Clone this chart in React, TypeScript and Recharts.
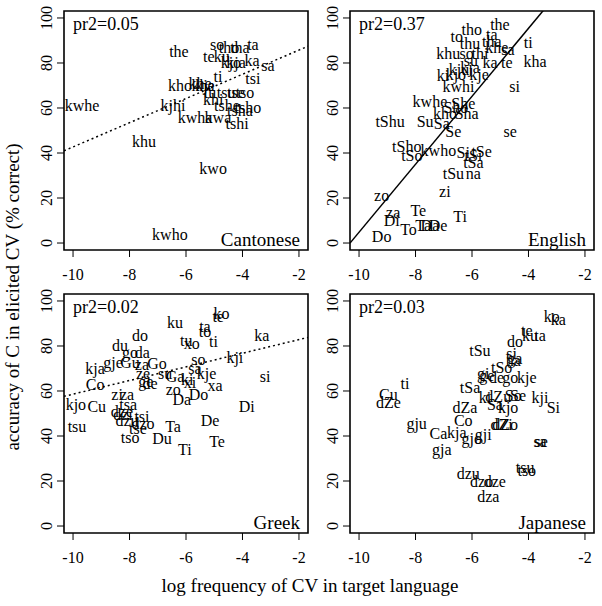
import React from 'react';
import { ScatterChart, Scatter, XAxis, YAxis, ReferenceArea, ReferenceLine } from 'recharts';

// tick values shared by all four panels
const xTicks = [-10, -8, -6, -4, -2];
const yTicks = [0, 20, 40, 60, 80, 100];
const xDomain = [-10.32, -1.68];
const yDomain = [-3.1, 103.1];

// Cantonese
const cantoneseLabels = ['the', 'so', 'tho', 'tha', 'ta', 'te', 'ku', 'kjo', 'kja', 'ka', 'sa', 'ti', 'tsi', 'kho', 'khe', 'kje', 'kha', 'tu', 'tsu', 'tse', 'tso', 'khi', 'kjhi', 'kwhe', 'tshe', 'tsho', 'tsha', 'kwha', 'kwa', 'tshi', 'khu', 'kwo', 'kwho'];
const cantoneseX = [-6.25, -4.9, -4.48, -4.09, -3.63, -5.19, -4.73, -4.41, -4.23, -3.66, -3.1, -4.87, -3.63, -6.21, -5.5, -5.33, -5.4, -5.15, -4.58, -4.23, -3.91, -5.04, -6.46, -9.68, -4.55, -3.81, -4.09, -5.68, -4.87, -4.19, -7.49, -5.04, -6.57];
const cantoneseY = [85.3, 88.0, 87.1, 87.1, 88.0, 82.7, 82.7, 80.0, 80.4, 81.3, 78.7, 73.8, 73.3, 70.2, 70.7, 70.2, 69.8, 67.1, 67.1, 67.1, 67.1, 63.6, 61.3, 61.3, 61.3, 60.4, 59.1, 55.6, 55.6, 52.9, 45.3, 33.3, 3.6];

// English
const englishLabels = ['the', 'tho', 'ta', 'to', 'thu', 'tha', 'khu', 'so', 'thi', 'khe', 'sa', 'ti', 'kha', 'te', 'ka', 'su', 'ki', 'kjo', 'kje', 'kja', 'kju', 'si', 'kwhi', 'kwhe', 'She', 'Sho', 'kho', 'Sha', 'tShu', 'Su', 'Sa', 'Se', 'se', 'tSho', 'tSo', 'kwho', 'Si', 'tSe', 'tSi', 'tSa', 'tSu', 'na', 'zi', 'zo', 'za', 'Te', 'Di', 'Ti', 'To', 'Ta', 'Da', 'De', 'Do'];
const englishX = [-5.01, -6.01, -5.3, -6.54, -6.07, -5.3, -6.84, -6.19, -5.72, -5.12, -4.73, -4.01, -3.77, -4.77, -5.36, -6.04, -7.03, -6.57, -5.75, -6.07, -6.46, -4.49, -6.48, -7.49, -6.31, -6.57, -6.96, -6.19, -8.9, -7.66, -7.07, -6.66, -4.65, -8.31, -8.13, -7.19, -6.31, -5.66, -5.95, -5.95, -6.66, -5.95, -6.96, -9.2, -8.79, -7.9, -8.84, -6.42, -8.25, -7.73, -7.49, -7.2, -9.2];
const englishY = [97.2, 95.1, 92.7, 91.7, 88.8, 89.5, 84.3, 84.3, 84.3, 87.1, 85.8, 89.2, 80.6, 80.3, 80.3, 81.3, 74.4, 75.1, 75.1, 77.8, 76.9, 69.5, 69.5, 62.8, 62.1, 60.0, 57.6, 57.6, 53.9, 53.9, 53.2, 49.5, 49.5, 42.8, 39.1, 41.3, 40.1, 40.6, 39.1, 35.7, 30.7, 30.7, 23.1, 20.9, 13.5, 14.4, 10.2, 11.7, 5.8, 7.6, 7.6, 7.6, 2.8];

// Greek
const greekLabels = ['ko', 'te', 'ku', 'ta', 'to', 'do', 'ka', 'tu', 'xo', 'ti', 'du', 'go', 'da', 'kji', 'so', 'gje', 'Gu', 'za', 'Go', 'kja', 'Co', 'sa', 'kje', 'Ga', 'ze', 'ge', 'de', 'su', 'ki', 'xi', 'xa', 'si', 'zo', 'Do', 'Da', 'kjo', 'Cu', 'Di', 'zi', 'za', 'tsa', 'dze', 'dzi', 'tsi', 'dzu', 'dzo', 'tse', 'tso', 'tsu', 'Ta', 'De', 'Du', 'Ti', 'Te'];
const greekX = [-4.74, -4.86, -6.39, -5.33, -5.33, -7.63, -3.32, -5.99, -5.8, -5.03, -8.34, -7.98, -7.55, -4.27, -5.56, -8.58, -7.98, -7.56, -7.03, -9.22, -9.22, -5.68, -5.27, -6.39, -7.52, -7.42, -7.27, -6.74, -5.96, -5.86, -4.97, -3.2, -6.45, -5.56, -6.15, -9.9, -9.16, -3.85, -8.44, -8.09, -8.05, -8.27, -8.23, -7.56, -8.09, -7.52, -7.7, -7.98, -9.86, -6.46, -5.15, -6.85, -6.04, -4.9];
const greekY = [94.6, 93.1, 90.4, 88.6, 86.4, 84.8, 84.8, 82.6, 81.1, 81.8, 80.3, 77.3, 77.3, 75.1, 74.0, 72.5, 72.5, 71.6, 72.1, 69.8, 63.1, 69.8, 67.6, 66.5, 67.6, 64.4, 63.5, 67.6, 64.9, 63.8, 62.3, 66.5, 60.8, 58.6, 56.3, 54.1, 53.3, 53.3, 58.6, 58.6, 54.1, 50.9, 49.5, 48.6, 46.8, 45.5, 43.2, 39.2, 44.1, 44.1, 46.8, 38.7, 34.2, 37.4];

// Japanese
const japaneseLabels = ['ko', 'ka', 'te', 'ku', 'ta', 'do', 'tSu', 'si', 'ha', 'ga', 'tSo', 'gi', 'ge', 'de', 'go', 'kje', 'ti', 'Cu', 'dZe', 'tSa', 'ki', 'dZu', 'So', 'Se', 'kji', 'Sa', 'kjo', 'Si', 'dZa', 'Co', 'dZi', 'dZo', 'gju', 'Ca', 'kja', 'gjo', 'gji', 'gja', 'sa', 'se', 'tsu', 'tso', 'dzu', 'dzo', 'dze', 'dza'];
const japaneseX = [-3.18, -2.94, -4.06, -3.95, -3.59, -4.48, -5.72, -4.6, -4.54, -4.48, -4.95, -5.6, -5.48, -5.13, -4.65, -4.06, -8.37, -8.96, -8.96, -6.07, -5.54, -5.07, -4.54, -4.37, -3.59, -5.19, -4.72, -3.12, -6.25, -6.31, -4.95, -4.83, -7.96, -7.19, -6.54, -6.01, -5.6, -7.07, -3.59, -3.55, -4.12, -4.06, -6.13, -5.66, -5.19, -5.42];
const japaneseY = [93.1, 91.6, 87.1, 84.8, 84.8, 81.8, 78.1, 76.6, 73.6, 74.3, 70.6, 67.6, 66.7, 66.2, 66.2, 66.2, 63.5, 58.6, 54.8, 61.6, 57.1, 57.5, 57.8, 58.1, 57.1, 54.1, 52.6, 52.6, 52.6, 47.0, 45.0, 45.0, 45.5, 41.3, 41.6, 39.1, 40.5, 34.1, 37.5, 37.5, 26.0, 24.5, 23.3, 20.0, 20.0, 13.1];

// fitted lines: intercept and slope (null = no line drawn)
const fitIntercepts = [96.5, 155.8, 88.9, null];
const fitSlopes = [5.38, 15.1, 3.03, null];

const FONT = '"Liberation Serif", "Times New Roman", serif';
const BOX_W = 244;
const BOX_H = 239;
const AXIS_W = 60;
const PAD_TOP = 10;

const toPoints = (labels: string[], xs: number[], ys: number[]) =>
  labels.map((label, i) => ({ label, x: xs[i], y: ys[i] }));

const renderLabel = (props: any) => (
  <text
    x={props.cx}
    y={props.cy}
    textAnchor="middle"
    dominantBaseline="central"
    fontFamily={FONT}
    fontSize={16}
    fill="#000"
  >
    {props.payload.label}
  </text>
);

const XTick = (props: any) => (
  <text
    x={props.x}
    y={PAD_TOP + BOX_H + 24}
    textAnchor="middle"
    dominantBaseline="central"
    fontFamily={FONT}
    fontSize={16}
    fill="#000"
  >
    {props.payload.value}
  </text>
);

const YTick = (props: any) => {
  const x = AXIS_W - 17;
  return (
    <text
      x={x}
      y={props.y}
      textAnchor="middle"
      dominantBaseline="central"
      fontFamily={FONT}
      fontSize={16}
      fill="#000"
      transform={`rotate(-90, ${x}, ${props.y})`}
    >
      {props.payload.value}
    </text>
  );
};

interface PanelProps {
  left: number;
  top: number;
  data: Array<{ label: string; x: number; y: number }>;
  intercept: number | null;
  slope: number | null;
  dashed: boolean;
}

const Panel: React.FC<PanelProps> = ({ left, top, data, intercept, slope, dashed }) => (
  <div style={{ position: 'absolute', left: left - AXIS_W, top: top - PAD_TOP }}>
    <ScatterChart
      width={AXIS_W + BOX_W + 10}
      height={PAD_TOP + BOX_H + 40}
      margin={{ top: PAD_TOP, right: 10, left: 0, bottom: 0 }}
    >
      <XAxis
        type="number"
        dataKey="x"
        domain={xDomain}
        ticks={xTicks}
        interval={0}
        allowDataOverflow
        axisLine={false}
        tickLine={{ stroke: '#000', strokeWidth: 1 }}
        tickSize={7}
        height={40}
        tick={<XTick />}
      />
      <YAxis
        type="number"
        dataKey="y"
        domain={yDomain}
        ticks={yTicks}
        interval={0}
        allowDataOverflow
        axisLine={false}
        tickLine={{ stroke: '#000', strokeWidth: 1 }}
        tickSize={7}
        width={AXIS_W}
        tick={<YTick />}
      />
      <ReferenceArea
        x1={xDomain[0]}
        x2={xDomain[1]}
        y1={yDomain[0]}
        y2={yDomain[1]}
        fill="none"
        fillOpacity={0}
        stroke="#000"
        strokeWidth={1.6}
        ifOverflow="visible"
      />
      {intercept !== null && slope !== null && (
        <ReferenceLine
          segment={[
            { x: xDomain[0], y: intercept + slope * xDomain[0] },
            { x: xDomain[1], y: intercept + slope * xDomain[1] },
          ]}
          stroke="#000"
          strokeWidth={1.5}
          strokeDasharray={dashed ? '2 3' : undefined}
          ifOverflow="hidden"
        />
      )}
      <Scatter data={data} isAnimationActive={false} shape={renderLabel} />
    </ScatterChart>
  </div>
);

const panels = [
  { name: 'Cantonese', pr2: 'pr2=0.05', left: 64, top: 11, data: toPoints(cantoneseLabels, cantoneseX, cantoneseY), dashed: true },
  { name: 'English', pr2: 'pr2=0.37', left: 350, top: 11, data: toPoints(englishLabels, englishX, englishY), dashed: false },
  { name: 'Greek', pr2: 'pr2=0.02', left: 64, top: 294, data: toPoints(greekLabels, greekX, greekY), dashed: true },
  { name: 'Japanese', pr2: 'pr2=0.03', left: 350, top: 294, data: toPoints(japaneseLabels, japaneseX, japaneseY), dashed: true },
];

export default function App() {
  return (
    <div style={{ position: 'absolute', left: 0, top: 0, width: 602, height: 606, background: '#fff' }}>
      {panels.map((p, i) => (
        <Panel
          key={p.name}
          left={p.left}
          top={p.top}
          data={p.data}
          intercept={fitIntercepts[i]}
          slope={fitSlopes[i]}
          dashed={p.dashed}
        />
      ))}
      <svg
        width={602}
        height={606}
        style={{ position: 'absolute', left: 0, top: 0, pointerEvents: 'none' }}
        fontFamily={FONT}
      >
        {panels.map((p) => (
          <g key={p.name}>
            <text x={p.left + 9} y={p.top + 13} dominantBaseline="central" fontSize={18} fill="#000">
              {p.pr2}
            </text>
            <text
              x={p.left + BOX_W - 8}
              y={p.top + BOX_H - 11}
              textAnchor="end"
              dominantBaseline="central"
              fontSize={19}
              fill="#000"
            >
              {p.name}
            </text>
          </g>
        ))}
        <text
          x={12}
          y={297}
          textAnchor="middle"
          dominantBaseline="central"
          fontSize={19}
          fill="#000"
          transform="rotate(-90, 12, 297)"
        >
          accuracy of C in elicited CV (% correct)
        </text>
        <text x={310} y={585} textAnchor="middle" dominantBaseline="central" fontSize={19} fill="#000">
          log frequency of CV in target language
        </text>
      </svg>
    </div>
  );
}
